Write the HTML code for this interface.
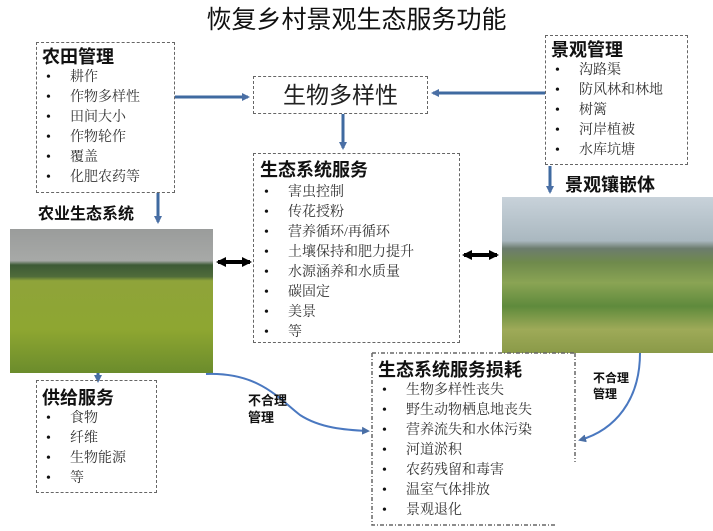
<!DOCTYPE html>
<html><head><meta charset="utf-8"><style>
body{margin:0;width:713px;height:531px;background:#fff;position:relative;overflow:hidden;font-family:"Liberation Serif","Noto Serif CJK SC","Noto Sans CJK SC",serif;color:#222}
.a{position:absolute}
.box{position:absolute;border:1.5px dashed #666;box-sizing:border-box}
.h{font-family:"Liberation Sans","Noto Sans CJK SC",sans-serif;font-weight:bold;font-size:18px;line-height:22px;color:#111}
ul{margin:0;padding:0;list-style:none}
li{font-size:14px;line-height:20px;position:relative;padding-left:28px;color:#333}
li:before{content:"•";position:absolute;left:4px;color:#111}
</style></head><body>
<svg class="a" style="left:0;top:0" width="713" height="531">
<defs>
<linearGradient id="lf" x1="0" y1="0" x2="0" y2="1">
<stop offset="0" stop-color="#9a9c9b"/><stop offset="0.22" stop-color="#a7a9a7"/><stop offset="0.25" stop-color="#3d5a36"/><stop offset="0.33" stop-color="#4f6b3a"/><stop offset="0.36" stop-color="#8fa43a"/><stop offset="0.7" stop-color="#8ea631"/><stop offset="1" stop-color="#6b8c2c"/></linearGradient>
<linearGradient id="rf" x1="0" y1="0" x2="0" y2="1">
<stop offset="0" stop-color="#c8d2da"/><stop offset="0.28" stop-color="#aab8c0"/><stop offset="0.33" stop-color="#6c7c6e"/><stop offset="0.42" stop-color="#6f8a4c"/><stop offset="0.55" stop-color="#8aa454"/><stop offset="0.7" stop-color="#5f8a3c"/><stop offset="0.85" stop-color="#9eaa58"/><stop offset="1" stop-color="#8a9a48"/></linearGradient>
<marker id="ab" markerWidth="8" markerHeight="8" refX="6" refY="4" orient="auto" markerUnits="userSpaceOnUse"><path d="M0,0L8,4L0,8z" fill="#4a6fa5"/></marker>
<marker id="ak" markerWidth="10" markerHeight="10" refX="8" refY="5" orient="auto-start-reverse" markerUnits="userSpaceOnUse"><path d="M0,0L10,5L0,10z" fill="#000"/></marker>
</defs>
<rect x="10" y="229" width="203" height="144" fill="url(#lf)"/>
<rect x="502" y="197" width="211" height="156" fill="url(#rf)"/>
<g stroke="#3f6aa0" stroke-width="3" fill="none">
<line x1="175" y1="97" x2="248" y2="97" marker-end="url(#ab)"/>
<line x1="545" y1="93" x2="433" y2="93" marker-end="url(#ab)"/>
<line x1="343" y1="114" x2="343" y2="148" marker-end="url(#ab)"/>
<line x1="158" y1="193" x2="158" y2="222" marker-end="url(#ab)"/>
<line x1="550" y1="166" x2="550" y2="192" marker-end="url(#ab)"/>
<line x1="98" y1="373" x2="98" y2="381" marker-end="url(#ab)"/>
</g>
<g stroke="#4a78c0" stroke-width="2" fill="none">
<path d="M206,374 C260,372 280,400 300,415 C320,428 345,430 368,431" marker-end="url(#ab)"/>
<path d="M640,353 C640,400 615,430 580,440" marker-end="url(#ab)"/>
</g>
<g stroke="#000" stroke-width="4">
<line x1="218" y1="262" x2="250" y2="262" marker-end="url(#ak)" marker-start="url(#ak)"/>
<line x1="464" y1="255" x2="497" y2="255" marker-end="url(#ak)" marker-start="url(#ak)"/>
</g>
<path d="M575,353 V462 M372,353 H575 M372,353 V525 H557" stroke="#666" stroke-width="1.5" stroke-dasharray="4,2,1,2" fill="none"/>
</svg>
<div class="a" style="left:0;width:713px;top:4px;text-align:center;font-family:'Liberation Sans','Noto Sans CJK SC',sans-serif;font-size:25px;line-height:32px;color:#111">恢复乡村景观生态服务功能</div>
<div class="box" style="left:36px;top:42px;width:139px;height:151px;padding:3px 0 0 5px"><div class="h">农田管理</div><ul><li>耕作</li><li>作物多样性</li><li>田间大小</li><li>作物轮作</li><li>覆盖</li><li>化肥农药等</li></ul></div>
<div class="box" style="left:253px;top:76px;width:175px;height:38px;text-align:center;font-size:23px;line-height:36px;font-family:'Liberation Sans','Noto Sans CJK SC',sans-serif">生物多样性</div>
<div class="box" style="left:545px;top:35px;width:143px;height:130px;padding:3px 0 0 5px"><div class="h">景观管理</div><ul><li>沟路渠</li><li>防风林和林地</li><li>树篱</li><li>河岸植被</li><li>水库坑塘</li></ul></div>
<div class="box" style="left:253px;top:153px;width:207px;height:190px;padding:5px 0 0 6px"><div class="h">生态系统服务</div><ul style="margin-top:2px"><li>害虫控制</li><li>传花授粉</li><li>营养循环/再循环</li><li>土壤保持和肥力提升</li><li>水源涵养和水质量</li><li>碳固定</li><li>美景</li><li>等</li></ul></div>
<div class="a h" style="left:38px;top:204px;font-size:16px">农业生态系统</div>
<div class="a h" style="left:565px;top:174px">景观镶嵌体</div>
<div class="box" style="left:36px;top:380px;width:121px;height:113px;padding:6px 0 0 5px"><div class="h">供给服务</div><ul><li>食物</li><li>纤维</li><li>生物能源</li><li>等</li></ul></div>
<div class="a" style="left:374px;top:356px;padding:3px 0 0 4px"><div class="h">生态系统服务损耗</div><ul><li>生物多样性丧失</li><li>野生动物栖息地丧失</li><li>营养流失和水体污染</li><li>河道淤积</li><li>农药残留和毒害</li><li>温室气体排放</li><li>景观退化</li></ul></div>
<div class="a h" style="left:248px;top:392px;font-size:13px;line-height:17px">不合理<br>管理</div>
<div class="a h" style="left:593px;top:370px;font-size:12px;line-height:16px">不合理<br>管理</div>
</body></html>
